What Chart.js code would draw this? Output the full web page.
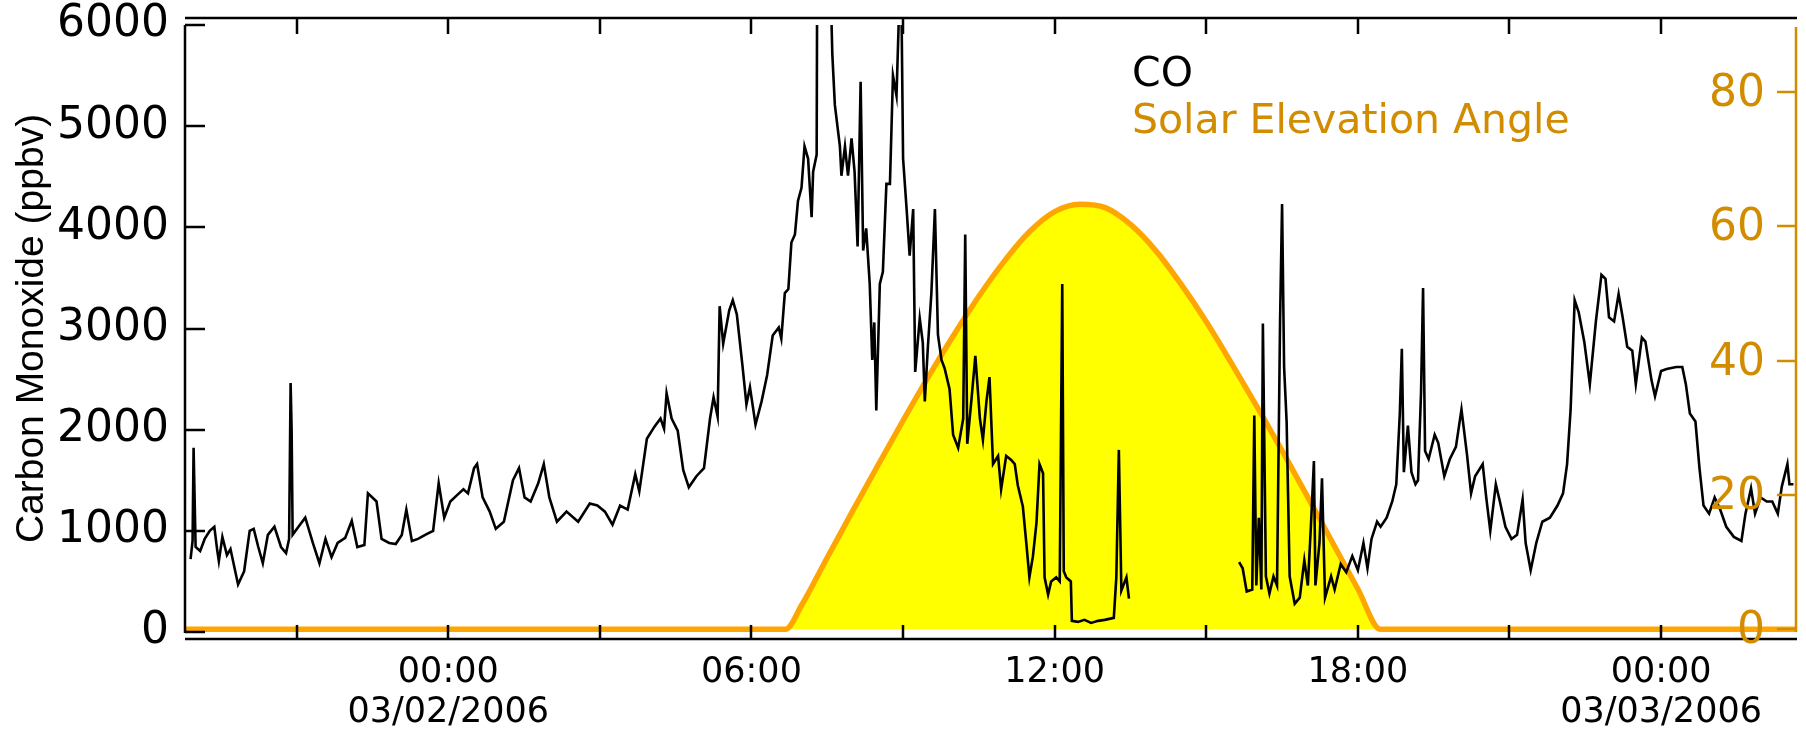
<!DOCTYPE html>
<html>
<head>
<meta charset="utf-8">
<script src="https://cdn.jsdelivr.net/npm/chart.js@4.4.1/dist/chart.umd.min.js"></script>
<style>
  html, body { margin: 0; padding: 0; background: #fff; }
  #wrap { width: 1806px; height: 729px; position: relative; }
</style>
</head>
<body>
<div id="wrap"><canvas id="co-chart"></canvas></div>
<script>
// time in hours after 03/02/2006 00:00
const coHours = [
  -5.10, -5.06, -5.04, -5.02, -5.00, -4.91, -4.82, -4.72, -4.63, -4.57, -4.54, -4.47, -4.38, -4.31, -4.16, -4.04,
  -3.93, -3.85, -3.76, -3.67, -3.57, -3.44, -3.31, -3.21, -3.15, -3.12, -3.10, -3.08, -2.95, -2.83, -2.68, -2.55,
  -2.43, -2.31, -2.19, -2.04, -1.91, -1.80, -1.66, -1.59, -1.42, -1.32, -1.17, -1.04, -0.92, -0.83, -0.72, -0.60,
  -0.42, -0.30, -0.19, -0.08, 0.04, 0.19, 0.30, 0.39, 0.51, 0.57, 0.68, 0.82, 0.94, 1.10, 1.28, 1.40,
  1.51, 1.63, 1.78, 1.89, 2.00, 2.15, 2.34, 2.57, 2.80, 2.95, 3.10, 3.25, 3.40, 3.55, 3.70, 3.78,
  3.93, 4.08, 4.20, 4.27, 4.32, 4.42, 4.54, 4.65, 4.76, 4.91, 5.06, 5.18, 5.25, 5.33, 5.37, 5.44,
  5.56, 5.63, 5.71, 5.82, 5.90, 5.97, 6.08, 6.20, 6.31, 6.42, 6.54, 6.59, 6.66, 6.73, 6.79, 6.86,
  6.92, 6.99, 7.05, 7.12, 7.19, 7.22, 7.29, 7.30, 7.45, 7.57, 7.60, 7.65, 7.75, 7.78, 7.85, 7.91,
  7.98, 8.04, 8.10, 8.16, 8.21, 8.27, 8.34, 8.39, 8.43, 8.47, 8.54, 8.60, 8.67, 8.74, 8.80, 8.87,
  8.93, 8.97, 9.00, 9.07, 9.13, 9.20, 9.24, 9.33, 9.39, 9.43, 9.49, 9.56, 9.63, 9.69, 9.76, 9.82,
  9.92, 9.99, 10.09, 10.19, 10.23, 10.27, 10.35, 10.43, 10.52, 10.58, 10.65, 10.71, 10.78, 10.88, 10.94, 11.04,
  11.14, 11.21, 11.27, 11.37, 11.44, 11.50, 11.57, 11.64, 11.70, 11.77, 11.80, 11.87, 11.93, 12.03, 12.10, 12.15,
  12.18, 12.23, 12.32, 12.34, 12.46, 12.59, 12.72, 12.86, 12.99, 13.17, 13.22, 13.27, 13.32, 13.42, 13.47, 14.50,
  15.65, 15.72, 15.80, 15.91, 15.95, 15.99, 16.04, 16.09, 16.12, 16.18, 16.25, 16.33, 16.40, 16.46, 16.50, 16.54,
  16.59, 16.65, 16.75, 16.85, 16.94, 17.01, 17.07, 17.13, 17.16, 17.24, 17.29, 17.35, 17.47, 17.54, 17.66, 17.77,
  17.89, 18.00, 18.11, 18.19, 18.27, 18.38, 18.45, 18.57, 18.68, 18.76, 18.83, 18.87, 18.91, 18.99, 19.06, 19.14,
  19.19, 19.25, 19.29, 19.33, 19.40, 19.52, 19.59, 19.71, 19.82, 19.94, 20.05, 20.16, 20.24, 20.32, 20.47, 20.54,
  20.62, 20.73, 20.81, 20.92, 21.04, 21.15, 21.26, 21.32, 21.42, 21.53, 21.65, 21.80, 21.95, 22.06, 22.14, 22.21,
  22.29, 22.37, 22.48, 22.59, 22.71, 22.82, 22.90, 22.97, 23.07, 23.16, 23.24, 23.33, 23.43, 23.50, 23.62, 23.69,
  23.81, 23.88, 24.00, 24.11, 24.30, 24.42, 24.49, 24.57, 24.68, 24.76, 24.84, 24.95, 25.06, 25.17, 25.29, 25.44,
  25.59, 25.67, 25.78, 25.86, 25.97, 26.09, 26.20, 26.31, 26.39, 26.50, 26.54, 26.62
]
const coPpbv = [
  720, 900, 1820, 1330, 840, 800, 920, 1000, 1040, 800, 700, 940, 760, 820, 470, 600,
  1000, 1020, 840, 680, 960, 1040, 840, 780, 920, 2460, 2000, 960, 1050, 1130, 880, 680,
  920, 740, 880, 930, 1100, 840, 860, 1370, 1290, 920, 880, 870, 960, 1210, 900, 920,
  970, 1000, 1470, 1130, 1290, 1360, 1410, 1370, 1620, 1660, 1330, 1190, 1020, 1090, 1500, 1620,
  1330, 1290, 1470, 1660, 1330, 1090, 1190, 1090, 1270, 1250, 1190, 1060, 1250, 1210, 1560, 1390,
  1910, 2030, 2110, 2010, 2360, 2110, 1990, 1600, 1430, 1540, 1620, 2110, 2320, 2130, 3220, 2850,
  3180, 3280, 3140, 2640, 2250, 2420, 2050, 2280, 2540, 2930, 3010, 2900, 3350, 3390, 3850, 3930,
  4260, 4390, 4800, 4680, 4100, 4550, 4720, 6500, 6900, 6300, 5710, 5210, 4800, 4510, 4800, 4510,
  4880, 4550, 3810, 5440, 3770, 3990, 3440, 2690, 3060, 2190, 3440, 3560, 4430, 4430, 5500, 5300,
  6300, 6100, 4680, 4180, 3720, 4180, 2570, 3100, 2860, 2280, 2810, 3350, 4180, 2940, 2690, 2610,
  2400, 1950, 1820, 2110, 3930, 1860, 2280, 2730, 2110, 1900, 2280, 2520, 1660, 1740, 1410, 1740,
  1700, 1660, 1450, 1240, 870, 540, 750, 1080, 1660, 1570, 540, 370, 500, 540, 500, 3440,
  600, 540, 500, 110, 100, 120, 90, 110, 120, 140, 540, 1800, 410, 540, 330, null,
  690, 630, 400, 420, 2140, 460, 1130, 420, 3050, 550, 380, 550, 460, 3070, 4230, 2620,
  2080, 550, 280, 340, 710, 460, 1040, 1690, 460, 880, 1520, 340, 550, 420, 670, 590,
  750, 610, 880, 630, 920, 1090, 1040, 1130, 1290, 1460, 2160, 2800, 1580, 2040, 1580, 1460,
  1500, 2370, 3400, 1790, 1710, 1950, 1870, 1540, 1710, 1830, 2200, 1750, 1370, 1540, 1660, 1330,
  1000, 1460, 1290, 1040, 920, 960, 1310, 880, 610, 880, 1090, 1130, 1250, 1370, 1660, 2200,
  3280, 3160, 2870, 2450, 3070, 3530, 3490, 3110, 3070, 3340, 3110, 2820, 2780, 2450, 2910, 2870,
  2490, 2330, 2580, 2600, 2620, 2620, 2450, 2160, 2080, 1620, 1250, 1170, 1330, 1210, 1040, 940,
  900, 1170, 1420, 1170, 1330, 1290, 1290, 1170, 1440, 1660, 1460, 1460
]
const sunHours = [
  -5.21, 6.67, 7.0, 7.5, 8.0, 8.5, 9.0, 9.5, 10.0, 10.5, 11.0, 11.5, 12.0, 12.5,
  13.0, 13.5, 14.0, 14.5, 15.0, 15.5, 16.0, 16.5, 17.0, 17.5, 18.0, 18.45, 26.67
]
const sunElevation = [
  0, 0, 3.7, 10.7, 17.6, 24.4, 31.1, 37.6, 43.8, 49.6, 54.8, 59.2, 62.2, 63.3,
  62.8, 60.3, 56.4, 51.4, 45.8, 39.6, 33.2, 26.6, 19.8, 12.9, 6.0, 0, 0
]
const xTickHours = [-3, 0, 3, 6, 9, 12, 15, 18, 21, 24]
const xLabels = { 0: ['00:00', '03/02/2006'], 6: '06:00', 12: '12:00', 18: '18:00', 24: ['00:00', '03/03/2006'] }
const coTicks = [0, 1000, 2000, 3000, 4000, 5000, 6000]
const sunTicks = [0, 20, 40, 60, 80]

const gold = '#D18C00'

function noPad(s) {
  s.paddingTop = 0
  s.paddingBottom = 0
  s.paddingLeft = 0
  s.paddingRight = 0
}

// axis frame with inward ticks, right-hand labels and the two-line legend
const framePlugin = {
  id: 'frame',
  afterDraw(chart) {
    const { ctx, chartArea: a, scales } = chart
    ctx.save()
    ctx.lineWidth = 2.5
    ctx.strokeStyle = '#000'
    ctx.beginPath()
    ctx.moveTo(a.left, a.top - 7); ctx.lineTo(a.right + 1, a.top - 7)
    ctx.moveTo(a.left, a.bottom + 7); ctx.lineTo(a.right + 1, a.bottom + 7)
    ctx.moveTo(a.left, a.top); ctx.lineTo(a.left, a.bottom + 1)
    xTickHours.forEach(h => {
      const x = Math.round(scales.x.getPixelForValue(h))
      ctx.moveTo(x, a.top - 7); ctx.lineTo(x, a.top + 9)
      ctx.moveTo(x, a.bottom + 7); ctx.lineTo(x, a.bottom - 7)
    })
    coTicks.forEach(v => {
      const y = Math.round(scales.y.getPixelForValue(v))
      ctx.moveTo(a.left, y); ctx.lineTo(a.left + 20, y)
    })
    ctx.stroke()

    ctx.strokeStyle = gold
    ctx.fillStyle = gold
    ctx.font = '44px "DejaVu Sans"'
    ctx.textAlign = 'right'
    ctx.textBaseline = 'middle'
    ctx.beginPath()
    ctx.moveTo(a.right, a.top + 2); ctx.lineTo(a.right, a.bottom)
    sunTicks.forEach(v => {
      const y = Math.round(scales.y1.getPixelForValue(v))
      ctx.moveTo(a.right, y); ctx.lineTo(a.right - 19, y)
      ctx.fillText(String(v), a.right - 31, y + 3)
    })
    ctx.stroke()

    ctx.textBaseline = 'alphabetic'
    ctx.textAlign = 'left'
    ctx.font = '41px "DejaVu Sans"'
    ctx.fillStyle = '#000'
    ctx.fillText('CO', 1132, 86)
    ctx.fillStyle = gold
    ctx.fillText('Solar Elevation Angle', 1132, 133)
    ctx.restore()
  }
}

new Chart(document.getElementById('co-chart'), {
  type: 'line',
  data: {
    datasets: [
      {
        label: 'CO',
        data: coHours.map((h, i) => ({ x: h, y: coPpbv[i] })),
        yAxisID: 'y',
        borderColor: '#000',
        borderWidth: 2.6,
        pointRadius: 0,
        tension: 0,
        spanGaps: false,
        fill: false
      },
      {
        label: 'Solar Elevation Angle',
        data: sunHours.map((h, i) => ({ x: h, y: sunElevation[i] })),
        yAxisID: 'y1',
        borderColor: '#FFA500',
        backgroundColor: '#FFFF00',
        borderWidth: 5.5,
        pointRadius: 0,
        cubicInterpolationMode: 'monotone',
        fill: 'origin'
      }
    ]
  },
  options: {
    responsive: true,
    maintainAspectRatio: false,
    animation: false,
    layout: { padding: { top: 25, left: 0, right: 0, bottom: 0 } },
    plugins: {
      legend: { display: false },
      tooltip: { enabled: false }
    },
    scales: {
      x: {
        type: 'linear',
        min: -5.21,
        max: 26.67,
        border: { display: false },
        grid: { display: false, drawTicks: false },
        afterBuildTicks: s => { s.ticks = xTickHours.map(v => ({ value: v })) },
        afterFit: s => { s.height = 97; noPad(s) },
        ticks: {
          autoSkip: false,
          maxRotation: 0,
          padding: 21,
          color: '#000',
          font: { family: 'DejaVu Sans', size: 35, lineHeight: 1.15 },
          callback: v => xLabels[v] ?? ''
        }
      },
      y: {
        position: 'left',
        min: 0,
        max: 6000,
        border: { display: false },
        grid: { display: false, drawTicks: false },
        afterBuildTicks: s => { s.ticks = coTicks.map(v => ({ value: v })) },
        afterFit: s => { s.width = 185; noPad(s) },
        ticks: {
          padding: 16,
          color: '#000',
          font: { family: 'DejaVu Sans', size: 44 },
          callback: v => String(v)
        },
        title: {
          display: true,
          text: 'Carbon Monoxide (ppbv)',
          color: '#000',
          font: { family: 'Liberation Sans', size: 39 },
          padding: { top: 9, bottom: 0 }
        }
      },
      y1: {
        position: 'right',
        min: -0.4,
        max: 90,
        border: { display: false },
        grid: { display: false, drawTicks: false },
        afterBuildTicks: s => { s.ticks = sunTicks.map(v => ({ value: v })) },
        afterFit: s => { s.width = 10; noPad(s) },
        ticks: { display: false }
      }
    }
  },
  plugins: [framePlugin]
})
</script>
</body>
</html>
